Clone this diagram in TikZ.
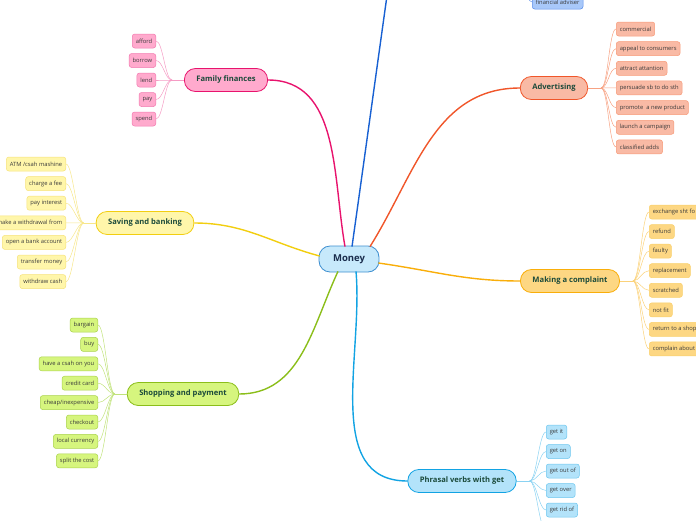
\documentclass[tikz,border=0pt]{standalone}
\usepackage{fontspec}
\setmainfont{Open Sans}
\usepackage{color}
\usepackage{tikz}
\usetikzlibrary{calc}

\definecolor{moneyfill}{HTML}{C7E9FB}
\definecolor{moneyline}{HTML}{3E8FD0}
\definecolor{moneytext}{HTML}{1A2D4D}
\definecolor{topictext}{HTML}{1B4A3A}
\definecolor{leaftext}{HTML}{3A3A3A}
\definecolor{pinkline}{HTML}{E8136D}
\definecolor{pinkfill}{HTML}{FFAACD}
\definecolor{pinkleaf}{HTML}{F27AB0}
\definecolor{pinktwig}{HTML}{F59BC4}
\definecolor{redline}{HTML}{F0562A}
\definecolor{redfill}{HTML}{F9BAA5}
\definecolor{redleaf}{HTML}{F79A78}
\definecolor{redtwig}{HTML}{F7A283}
\definecolor{amberline}{HTML}{F9AE0A}
\definecolor{amberfill}{HTML}{FDD783}
\definecolor{amberleaf}{HTML}{F9CF6B}
\definecolor{ambertwig}{HTML}{FBD27A}
\definecolor{cyanline}{HTML}{12A3E3}
\definecolor{cyanfill}{HTML}{B3E3FA}
\definecolor{cyanleaf}{HTML}{6CC6EE}
\definecolor{cyantwig}{HTML}{8AD2F2}
\definecolor{greenline}{HTML}{8BBE1A}
\definecolor{greenfill}{HTML}{D6F57E}
\definecolor{greenleaf}{HTML}{A9D24B}
\definecolor{greentwig}{HTML}{C0E27A}
\definecolor{yellowline}{HTML}{F2CE10}
\definecolor{yellowfill}{HTML}{FFF6AA}
\definecolor{yellowleaf}{HTML}{F6E27A}
\definecolor{yellowtwig}{HTML}{F7E68A}
\definecolor{blueline}{HTML}{1760D2}
\definecolor{bluefill}{HTML}{A8C8F9}
\definecolor{blueleaf}{HTML}{5A8DEA}

\begin{document}
\begin{tikzpicture}[x=1pt,y=-1pt,
   topic/.style={
      draw,
      rounded corners=11pt,
      minimum height=23pt,
      inner xsep=12pt,
      line width=0.8pt,
      text=topictext,
      font=\fontsize{7.6}{8}\selectfont\bfseries
   },
   leaf/.style={
      draw,
      rounded corners=2.5pt,
      minimum height=14pt,
      inner xsep=3.5pt,
      line width=0.5pt,
      text=leaftext,
      font=\fontsize{5.8}{6}\selectfont
   },
   branch/.style={line width=1.4pt},
   twig/.style={line width=0.5pt}]

   \useasboundingbox (0,0) rectangle (696,520);
   \clip (0,0) rectangle (696,520);

   \node[topic, fill=moneyfill, draw=moneyline, text=moneytext, minimum height=26pt,
      inner xsep=14pt, font=\fontsize{9.5}{10}\selectfont\bfseries] (money) at (349,259) {Money};

   \node[topic, fill=pinkfill, draw=pinkline] (family) at (226,80) {Family finances};
   \node[topic, fill=redfill, draw=redline] (advert) at (554,88) {Advertising};
   \node[topic, fill=amberfill, draw=amberline] (complaint) at (570,281) {Making a complaint};
   \node[topic, fill=cyanfill, draw=cyanline] (phrasal) at (462,481) {Phrasal verbs with get};
   \node[topic, fill=greenfill, draw=greenline] (shopping) at (183,394) {Shopping and payment};
   \node[topic, fill=yellowfill, draw=yellowline] (saving) at (145,223) {Saving and banking};
   \coordinate (upper) at (392,-40);

   \draw[branch, pinkline] ($(money.north)+(-4,1)$) to[out=100, in=0] (family.east);
   \draw[branch, blueline] ($(money.north)+(3,1)$) to[out=82, in=-98] (upper);
   \draw[branch, redline] ($(money.north)+(21,1)$) to[out=58, in=180] (advert.west);
   \draw[branch, amberline] ($(money.east)+(-1,4)$) to[out=-8, in=180] (complaint.west);
   \draw[branch, cyanline] ($(money.south)+(7,-1)$) to[out=-85, in=180] (phrasal.west);
   \draw[branch, greenline] ($(money.south)+(-11,-1)$) to[out=-115, in=0] (shopping.east);
   \draw[branch, yellowline] ($(money.west)+(1,-3)$) to[out=165, in=0] (saving.east);

   \coordinate (family fan) at ($(family.west)+(-12,0)$);
   \draw[twig, pinktwig] (family.west) -- (family fan);
   \foreach \word [count=\i] in {afford,borrow,lend,pay,spend} {
      \node[leaf, fill=pinkfill, draw=pinkleaf, anchor=east] (family-\i) at (156, 41+19.5*\i-19.5) {\word};
      \draw[twig, pinktwig] (family fan) .. controls +(-7,0) and +(7,0) .. (family-\i.east);
   }

   \coordinate (saving fan) at ($(saving.west)+(-12,0)$);
   \draw[twig, yellowtwig] (saving.west) -- (saving fan);
   \foreach \word [count=\i] in {ATM /csah mashine,charge a fee,pay interest,make a withdrawal from,
      open a bank account,transfer money,withdraw cash} {
      \node[leaf, fill=yellowfill, draw=yellowleaf, anchor=east] (saving-\i) at (66, 164+19.6*\i-19.6) {\word};
      \draw[twig, yellowtwig] (saving fan) .. controls +(-7,0) and +(7,0) .. (saving-\i.east);
   }

   \coordinate (shopping fan) at ($(shopping.west)+(-12,0)$);
   \draw[twig, greentwig] (shopping.west) -- (shopping fan);
   \foreach \word [count=\i] in {bargain,buy,have a csah on you,credit card,cheap/inexpensive,
      checkout,local currency,split the cost} {
      \node[leaf, fill=greenfill, draw=greenleaf, anchor=east] (shopping-\i) at (98, 325+19.4*\i-19.4) {\word};
      \draw[twig, greentwig] (shopping fan) .. controls +(-7,0) and +(7,0) .. (shopping-\i.east);
   }

   \coordinate (advert fan) at ($(advert.east)+(13,0)$);
   \draw[twig, redtwig] (advert.east) -- (advert fan);
   \foreach \word [count=\i] in {commercial,appeal to consumers,attract attantion,persuade sb to do sth,
      promote~ a new product,launch a campaign,classified adds} {
      \node[leaf, fill=redfill, draw=redleaf, anchor=west] (advert-\i) at (616, 29+19.65*\i-19.65) {\word};
      \draw[twig, redtwig] (advert fan) .. controls +(7,0) and +(-7,0) .. (advert-\i.west);
   }

   \coordinate (complaint fan) at ($(complaint.east)+(13,0)$);
   \draw[twig, ambertwig] (complaint.east) -- (complaint fan);
   \foreach \word/\extra [count=\i] in {exchange sht fo/20,refund/0,faulty/0,replacement/0,scratched/0,
      not fit/0,return to a shop/12,complain about/20} {
      \node[leaf, fill=amberfill, draw=amberleaf, anchor=west] (complaint-\i) at (649, 212+19.57*\i-19.57) {\word\hspace{\extra pt}};
      \draw[twig, ambertwig] (complaint fan) .. controls +(7,0) and +(-7,0) .. (complaint-\i.west);
   }

   \coordinate (phrasal fan) at ($(phrasal.east)+(13,0)$);
   \draw[twig, cyantwig] (phrasal.east) -- (phrasal fan);
   \foreach \word [count=\i] in {get it,get on,get out of,get over,get rid of} {
      \node[leaf, fill=cyanfill, draw=cyanleaf, anchor=west] (phrasal-\i) at (546, 432+19.5*\i-19.5) {\word};
      \draw[twig, cyantwig] (phrasal fan) .. controls +(7,0) and +(-7,0) .. (phrasal-\i.west);
   }
   \coordinate (phrasal-6) at (546,530);
   \draw[twig, cyantwig] (phrasal fan) .. controls +(7,0) and +(-7,0) .. (phrasal-6);

   \node[leaf, fill=bluefill, draw=blueleaf, anchor=west] (adviser) at (532,2) {financial adviser};
   \coordinate (blue fan) at (519,-30);
   \draw[twig, blueleaf] (blue fan) .. controls +(7,0) and +(-7,0) .. (adviser.west);

\end{tikzpicture}
\end{document}
